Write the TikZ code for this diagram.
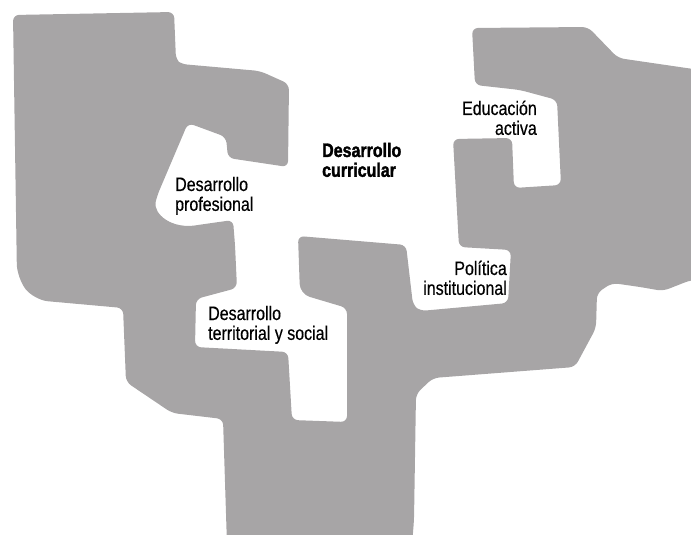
\documentclass[tikz,border=0pt]{standalone}
\usepackage{fontspec}
\setmainfont{Liberation Sans}[FakeStretch=0.82, UprightFeatures={FakeBold=0.4}, BoldFeatures={FakeBold=1.6}]
\definecolor{mapgray}{RGB}{167,165,166}
\tikzset{
  lbl/.style={inner sep=0pt, font=\fontsize{19.5bp}{19bp}\selectfont},
  region/.style={fill=mapgray, draw=none}
}
\begin{document}
\begin{tikzpicture}[x=1bp,y=-1bp]
\useasboundingbox (0,0) rectangle (691,535);
\clip (0,0) rectangle (691,535);
\fill[region, rounded corners=6bp]
  (13,15) -- (174,12) -- (176,60) -- (181,64) -- (260,71) -- (289,84)
  -- (288,167) -- (228,158) -- (226,137) -- (188,123) -- (157,196)
  [sharp corners] .. controls (153,214) and (172,230) .. (198,225) [rounded corners=6bp]
  -- (233,220) -- (235,245) -- (237,288) -- (196,299) -- (195,347)
  -- (288,352) -- (292,420) -- (347,422) -- (347,308)
  [rounded corners=10bp] -- (300,294) [rounded corners=6bp]
  -- (298,236) -- (406,245) -- (413,305) -- (420,311) -- (508,303)
  -- (511,250) -- (459,247) -- (453,139) -- (512,138) -- (514,188)
  -- (561,185) -- (557,100) -- (520,90) -- (475,85) -- (472,28)
  -- (588,27) -- (618,58) -- (700,70) -- (700,280) -- (691,280)
  -- (663,291) -- (640,287) -- (612,283) -- (597,293) -- (596,328)
  -- (575,367) -- (433,378) -- (416,394) -- (414,520) -- (412,545)
  -- (227,545) -- (223,419) -- (172,413) -- (126,382) -- (123,308)
  [rounded corners=14bp] -- (34,300) -- (17,278) [rounded corners=6bp] -- cycle;

\node[lbl, anchor=base west] (curr) at (322,157)
  {\bfseries\begin{tabular}[t]{@{}l@{}}Desarrollo\\curricular\end{tabular}};
\node[lbl, anchor=base west] (prof) at (175,191)
  {\begin{tabular}[t]{@{}l@{}}Desarrollo\\profesional\end{tabular}};
\node[lbl, anchor=base west] (terr) at (208,320)
  {\begin{tabular}[t]{@{}l@{}}Desarrollo\\territorial y social\end{tabular}};
\node[lbl, anchor=base east] (educ) at (537,115)
  {\begin{tabular}[t]{@{}r@{}}Educación\\activa\end{tabular}};
\node[lbl, anchor=base east] (poli) at (507,275)
  {\begin{tabular}[t]{@{}r@{}}Política\\institucional\end{tabular}};
\end{tikzpicture}
\end{document}
